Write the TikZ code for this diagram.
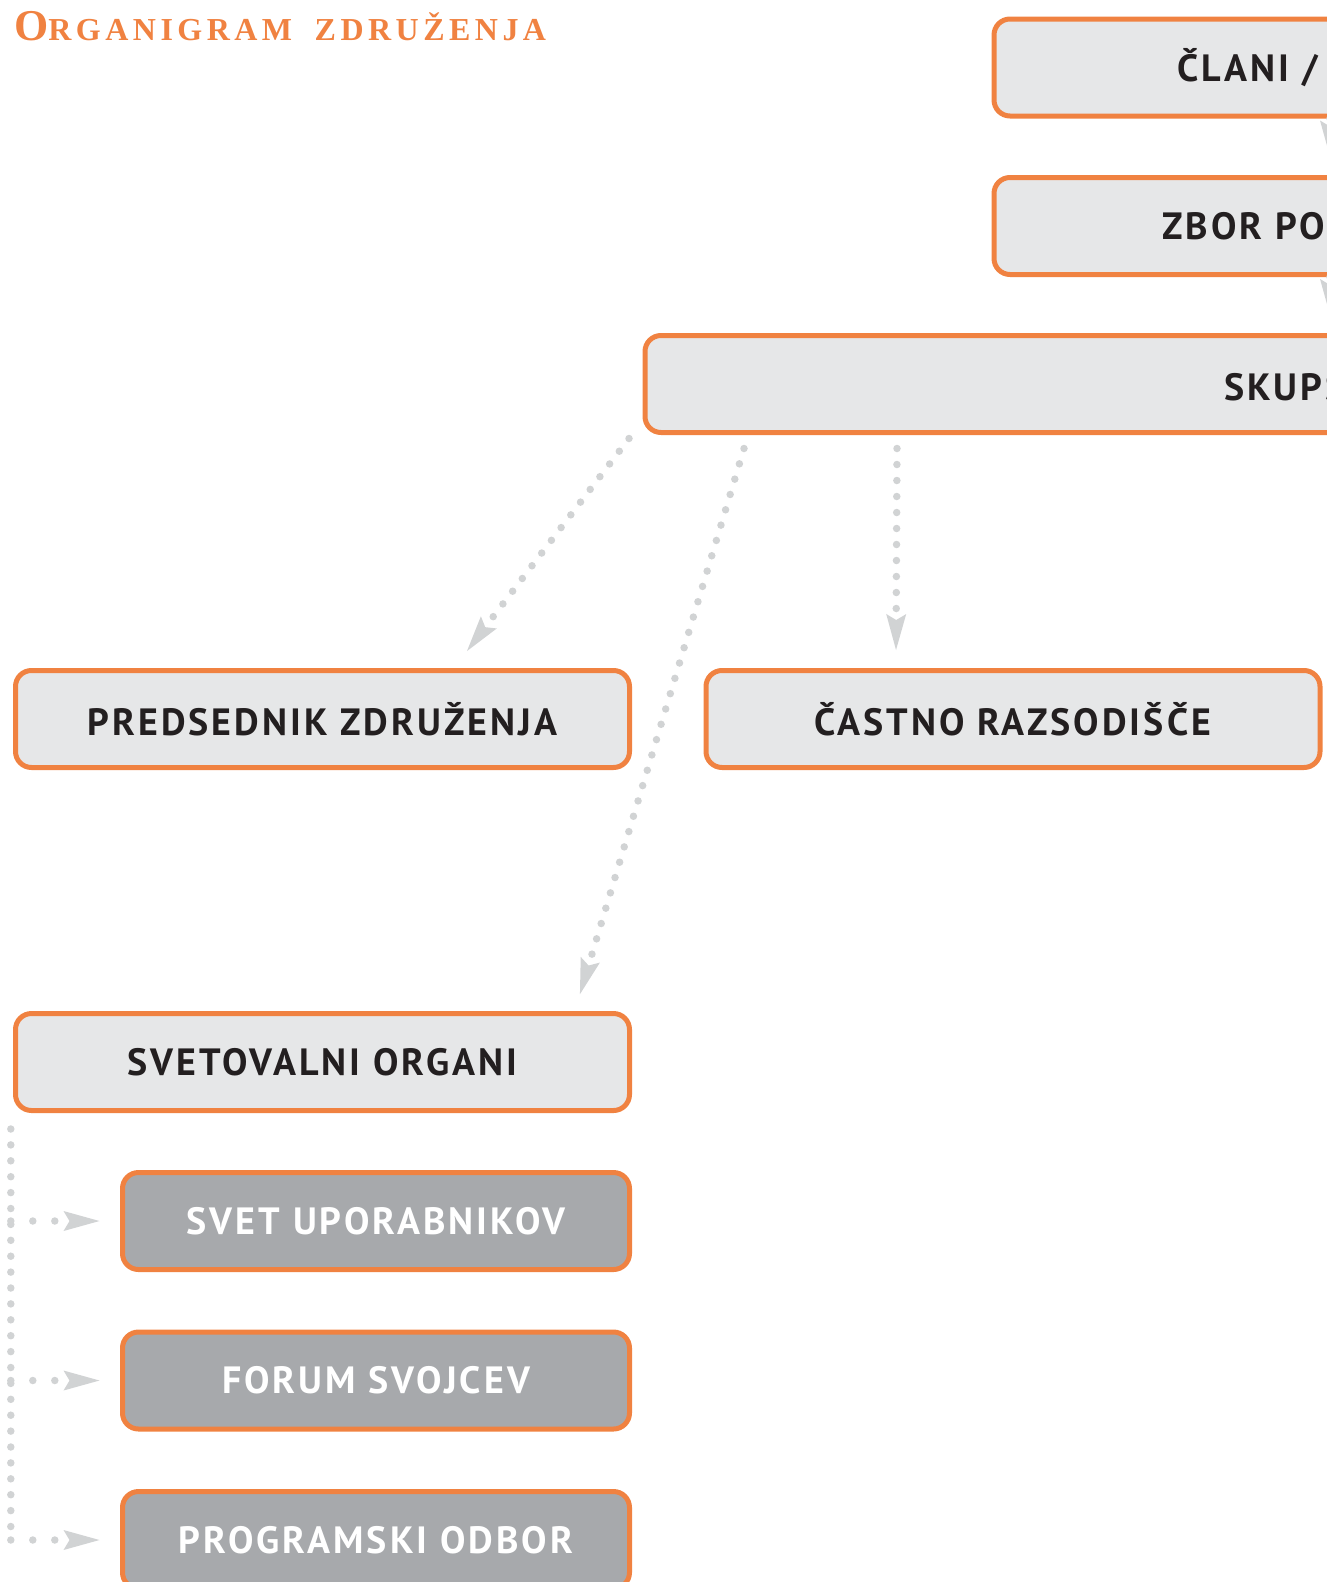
\documentclass[tikz,border=0pt]{standalone}
\usepackage{fontspec}
\usetikzlibrary{arrows.meta,positioning}
\newfontfamily\boxfont[LetterSpace=8]{PT Sans}
\newfontfamily\titlefont[LetterSpace=14]{Liberation Serif}
\definecolor{orgorange}{HTML}{F08241}
\definecolor{boxgray}{HTML}{E6E7E8}
\definecolor{subgray}{HTML}{A7A9AC}
\definecolor{dotgray}{HTML}{D1D3D4}
\definecolor{ink}{HTML}{231F20}

\tikzset{
  organ/.style={draw=orgorange, line width=5pt, rounded corners=16pt,
    fill=boxgray, minimum width=614pt, minimum height=97pt, inner sep=0pt,
    text=ink, font=\boxfont\bfseries\fontsize{38}{42}\selectfont},
  suborgan/.style={organ, minimum width=507pt, fill=subgray, text=white},
  organtext/.style={inner sep=0pt, text=ink,
    font=\boxfont\bfseries\fontsize{38}{42}\selectfont},
  flow/.style={dotgray, line width=7.5pt, line cap=round,
    dash pattern=on 0pt off 16pt,
    -{Stealth[length=36pt,width=20pt,inset=6pt,sep=5pt,line width=0pt]}},
  spine/.style={dotgray, line width=7.5pt, line cap=round,
    dash pattern=on 0pt off 15.9pt},
  branch/.style={flow, dash pattern=on 0pt off 22pt},
}

\begin{document}
\begin{tikzpicture}[x=1pt,y=-1pt]
  \useasboundingbox (0,0) rectangle (1326,1582);

  \node[anchor=base west, inner sep=0pt, text=orgorange,
    font=\titlefont\bfseries] (title) at (14,40)
    {{\fontsize{44}{44}\selectfont O}{\fontsize{32}{32}\selectfont RGANIGRAM\hspace{10pt} ZDRUŽENJA}};

  % upper chain, runs past the right edge
  \node[organ, minimum width=900pt, anchor=west] (clani) at (991.5,67.5) {};
  \node[organtext, anchor=west] at ([xshift=185.5pt]clani.west) {ČLANI /};
  \node[organ, minimum width=900pt, anchor=west] (zbor) at (991.5,226) {};
  \node[organtext, anchor=west] at ([xshift=170.5pt]zbor.west) {ZBOR PO};
  \node[organ, minimum width=1300pt, anchor=west] (skup) at (642.5,384) {};
  \node[organtext, anchor=west] at ([xshift=581.5pt]skup.west) {SKUPŠ};

  \node[organ] (pred) at (322.5,719) {PREDSEDNIK ZDRUŽENJA};
  \node[organ] (cast) at (1013,719) {ČASTNO RAZSODIŠČE};
  \node[organ] (svet) at (322.5,1062) {SVETOVALNI ORGANI};

  \node[suborgan] (upor) at (376,1221) {SVET UPORABNIKOV};
  \node[suborgan] (forum) at (376,1380.5) {FORUM SVOJCEV};
  \node[suborgan] (prog) at (376,1540) {PROGRAMSKI ODBOR};

  \draw[flow] ([xshift=-114pt]clani.south) -- ([xshift=-114pt,yshift=13.5pt]zbor.north);
  \draw[flow] ([xshift=-114pt]zbor.south) -- ([xshift=35pt,yshift=13pt]skup.north);

  \draw[flow] ([shift={(-13.5pt,-3.5pt)}]skup.south west) -- ([shift={(141.5pt,13pt)}]pred.north);
  \draw[flow] ([shift={(101.5pt,-13.5pt)}]skup.south west) -- ([shift={(256pt,12pt)}]svet.north);
  \draw[flow] ([shift={(254.5pt,-13.5pt)}]skup.south west) -- ([shift={(-117pt,13pt)}]cast.north);

  \coordinate (root) at ([shift={(-2.2pt,-16pt)}]svet.south west);
  \draw[spine] (root) -- (root |- prog.west);
  \foreach \n in {upor,forum,prog}
    \draw[branch, shorten >=15.5pt] (root |- \n.west) -- (\n.west);
\end{tikzpicture}
\end{document}
